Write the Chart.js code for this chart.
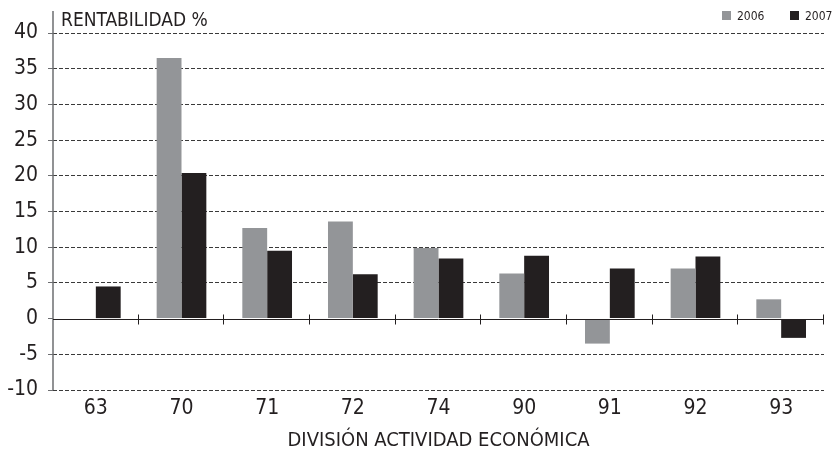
<!DOCTYPE html>
<html lang="es">
<head>
<meta charset="utf-8">
<title>Rentabilidad por división</title>
<script src="https://cdn.jsdelivr.net/npm/chart.js@4/dist/chart.umd.min.js"></script>
<style>
    html, body { margin: 0; padding: 0; background: #fff; }
    .chart-box { position: relative; width: 833px; height: 453px; }
</style>
</head>
<body>
<div class="chart-box"><canvas id="rentChart"></canvas></div>
<script>
// Data
const divisions = ['63', '70', '71', '72', '74', '90', '91', '92', '93'];
const values2006 = [null, 36.5, 12.7, 13.6, 9.9, 6.3, -3.5, 7.0, 2.7];
const values2007 = [4.5, 20.4, 9.5, 6.2, 8.4, 8.8, 7.0, 8.7, -2.7];
const yTicks = [-10, -5, 0, 5, 10, 15, 20, 25, 30, 35, 40];

const FONT = '"Liberation Sans Narrow", "DejaVu Sans Condensed", "Arial Narrow", sans-serif';
const INK = '#231f20';
const GREY = '#939598';

document.addEventListener('DOMContentLoaded', () => {
    const ctx = document.getElementById('rentChart');

    // zero line with category ticks, left axis, y title and legend
    const decorations = {
        id: 'decorations',
        afterDraw(chart) {
            const { ctx: c, chartArea: area, scales } = chart;
            const x = scales.x;
            const y = scales.y;
            const zeroY = Math.round(y.getPixelForValue(0)) + 0.5;
            c.save();

            // left axis, runs a bit above the top gridline
            c.strokeStyle = '#6d6e71';
            c.lineWidth = 1.5;
            c.beginPath();
            c.moveTo(area.left, 11);
            c.lineTo(area.left, area.bottom);
            c.stroke();

            // zero line
            c.strokeStyle = INK;
            c.lineWidth = 1;
            c.beginPath();
            c.moveTo(area.left, zeroY);
            c.lineTo(area.right, zeroY);
            c.stroke();

            // ticks between categories
            const half = (x.getPixelForValue(1) - x.getPixelForValue(0)) / 2;
            c.beginPath();
            for (let i = 0; i < divisions.length; i++) {
                const bx = Math.round(x.getPixelForValue(i) + half) - 0.5;
                c.moveTo(bx, zeroY - 5);
                c.lineTo(bx, zeroY + 5);
            }
            c.stroke();

            // axis title at top
            c.fillStyle = INK;
            c.font = '19px ' + FONT;
            c.textAlign = 'left';
            c.textBaseline = 'alphabetic';
            c.fillText('RENTABILIDAD %', area.left + 8, 26);

            // legend
            c.font = '12px ' + FONT;
            let lx = 722;
            chart.data.datasets.forEach(ds => {
                c.fillStyle = ds.backgroundColor;
                c.fillRect(lx, 11, 9, 9);
                c.fillStyle = INK;
                c.fillText(ds.label, lx + 15, 20);
                lx += 68;
            });
            c.restore();
        }
    };

    new Chart(ctx, {
        type: 'bar',
        data: {
            labels: divisions,
            datasets: [
                { label: '2006', data: values2006, backgroundColor: GREY },
                { label: '2007', data: values2007, backgroundColor: INK }
            ]
        },
        options: {
            responsive: true,
            maintainAspectRatio: false,
            animation: false,
            layout: { padding: { top: 33, right: 9, left: 0, bottom: 0 } },
            datasets: {
                bar: { barPercentage: 1.0, categoryPercentage: 0.58 }
            },
            scales: {
                x: {
                    grid: { display: false, drawTicks: false },
                    border: { display: false },
                    ticks: { color: INK, font: { family: FONT, size: 21 }, padding: 6 },
                    title: {
                        display: true,
                        text: 'DIVISIÓN ACTIVIDAD ECONÓMICA',
                        color: INK,
                        font: { family: FONT, size: 20 },
                        padding: { top: 5, bottom: 0 }
                    },
                    afterFit: scale => { scale.height = 63; }
                },
                y: {
                    min: -10,
                    max: 40,
                    afterBuildTicks: scale => { scale.ticks = yTicks.map(v => ({ value: v })); },
                    grid: {
                        color: ctx2 => ctx2.tick && ctx2.tick.value === 0 ? 'rgba(0,0,0,0)' : '#3a3a3a',
                        tickColor: '#6d6e71',
                        tickLength: 5,
                        tickBorderDash: []
                    },
                    border: { display: false, dash: [4, 2] },
                    ticks: { color: INK, font: { family: FONT, size: 21 }, padding: 10 },
                    afterFit: scale => { scale.width = 53; }
                }
            },
            plugins: {
                legend: { display: false },
                tooltip: { enabled: false }
            }
        },
        plugins: [decorations]
    });
});
</script>
</body>
</html>
